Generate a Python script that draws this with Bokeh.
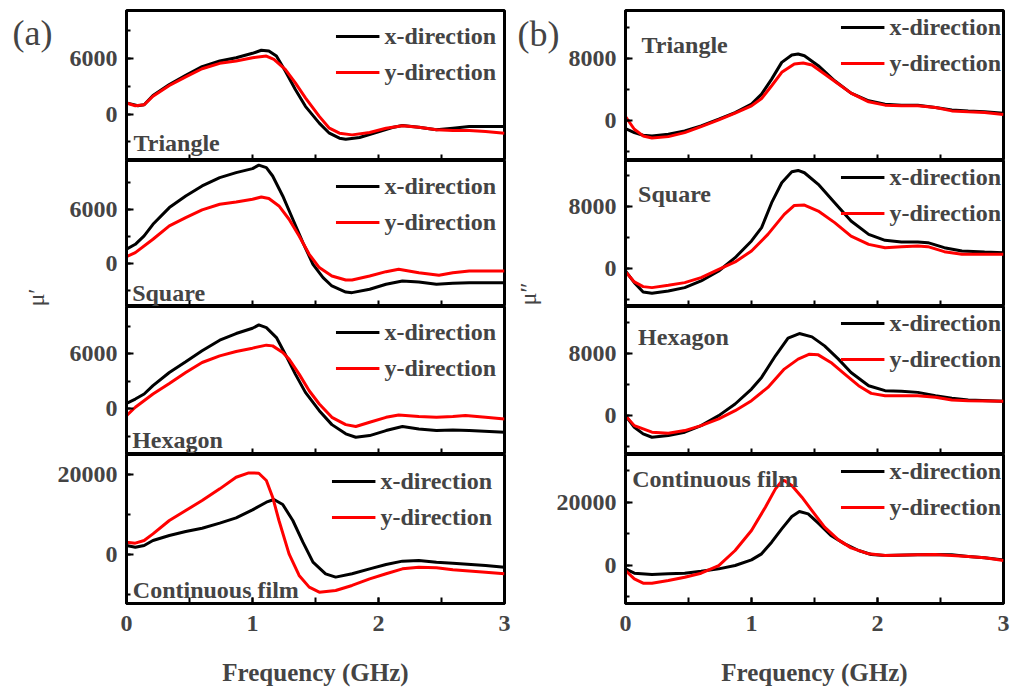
from bokeh.plotting import figure
from bokeh.layouts import row, column
from bokeh.models import (Range1d, SingleIntervalTicker, FixedTicker, Legend, LegendItem, Label, Title,
                          LinearAxis)
from bokeh.embed import file_html
from bokeh.resources import INLINE

FONT = "Liberation Serif"

# ---------------- data (frequency in GHz) ----------------
# (a) mu' ; Triangle
tri_re_fx = [0, 0.09, 0.14, 0.21, 0.34, 0.47, 0.60, 0.74, 0.87, 1.00, 1.07, 1.13, 1.19, 1.26, 1.34,
             1.42, 1.53, 1.61, 1.69, 1.74, 1.85, 1.98, 2.11, 2.19, 2.32, 2.46, 2.59, 2.72, 3.00]
tri_re_x = [1200, 900, 1000, 1990, 3180, 4160, 5100, 5710, 6070, 6540, 6870, 6800, 6250, 4630, 2640,
            830, -980, -2060, -2600, -2710, -2530, -1990, -1450, -1230, -1410, -1700, -1520, -1340, -1340]
tri_re_fy = [0, 0.07, 0.14, 0.21, 0.34, 0.47, 0.60, 0.74, 0.87, 1.00, 1.11, 1.17, 1.26, 1.34,
             1.42, 1.53, 1.61, 1.69, 1.79, 1.93, 2.06, 2.19, 2.32, 2.46, 2.59, 2.72, 2.85, 3.00]
tri_re_y = [1190, 900, 1000, 1920, 3070, 4010, 4880, 5460, 5710, 6070, 6250, 5890, 4810, 3360,
            1735, -250, -1520, -2060, -2240, -1990, -1520, -1265, -1410, -1700, -1770, -1770, -1880, -2060]

# (a) Square
sq_re_fx = [0, 0.07, 0.14, 0.21, 0.34, 0.47, 0.60, 0.74, 0.87, 1.00, 1.05, 1.11, 1.16, 1.24, 1.32,
            1.40, 1.48, 1.56, 1.63, 1.74, 1.79, 1.93, 2.06, 2.19, 2.32, 2.46, 2.59, 2.72, 3.00]
sq_re_x = [1560, 2110, 3040, 4330, 6190, 7480, 8590, 9520, 10070, 10520, 10900, 10630, 9700, 7480, 4890,
           2300, -110, -1590, -2520, -3190, -3260, -2890, -2330, -1960, -2070, -2330, -2220, -2150, -2150]
sq_re_fy = [0, 0.07, 0.21, 0.34, 0.47, 0.60, 0.74, 0.87, 1.00, 1.07, 1.13, 1.21, 1.29, 1.37, 1.45,
            1.53, 1.63, 1.74, 1.79, 1.93, 2.06, 2.16, 2.32, 2.48, 2.59, 2.72, 3.00]
sq_re_y = [740, 1185, 2670, 4150, 5070, 5930, 6560, 6810, 7110, 7370, 7190, 6370, 4890, 3040, 1000,
           -480, -1410, -1850, -1850, -1410, -930, -670, -1040, -1330, -1040, -850, -850]

# (a) Hexagon
hex_re_fx = [0, 0.07, 0.14, 0.21, 0.34, 0.47, 0.60, 0.74, 0.87, 1.00, 1.05, 1.11, 1.19, 1.26, 1.34,
             1.42, 1.53, 1.63, 1.74, 1.82, 1.93, 2.06, 2.19, 2.32, 2.46, 2.59, 2.72, 3.00]
hex_re_x = [580, 1050, 1600, 2510, 3960, 5130, 6330, 7490, 8220, 8800, 9160, 8870, 7780, 5960, 3780,
            1780, -220, -1750, -2760, -3130, -2950, -2400, -1960, -2220, -2400, -2330, -2400, -2580]
hex_re_fy = [0, 0.07, 0.21, 0.34, 0.47, 0.60, 0.74, 0.87, 1.00, 1.11, 1.16, 1.24, 1.29, 1.37, 1.45,
             1.53, 1.63, 1.74, 1.82, 1.93, 2.06, 2.16, 2.32, 2.46, 2.59, 2.69, 2.85, 3.00]
hex_re_y = [-760, 150, 1600, 2760, 3960, 5050, 5780, 6250, 6620, 6950, 6870, 6150, 5420, 3780, 1960,
            510, -950, -1750, -1960, -1490, -950, -690, -870, -950, -870, -760, -950, -1130]

# (a) Continuous film
cf_re_fx = [0, 0.07, 0.14, 0.21, 0.34, 0.47, 0.60, 0.74, 0.87, 1.00, 1.11, 1.17, 1.24, 1.32, 1.40,
            1.48, 1.58, 1.66, 1.79, 1.93, 2.06, 2.19, 2.32, 2.46, 2.59, 2.85, 3.00]
cf_re_x = [2260, 1840, 2260, 3510, 4770, 5770, 6610, 7870, 9200, 11210, 13140, 13810, 12550, 8540, 3100,
           -1920, -4850, -5690, -4850, -3600, -2510, -1670, -1510, -1920, -2180, -2760, -3180]
cf_re_fy = [0, 0.07, 0.14, 0.21, 0.34, 0.47, 0.60, 0.74, 0.87, 0.97, 1.05, 1.11, 1.16, 1.21, 1.29,
            1.37, 1.45, 1.53, 1.66, 1.79, 1.93, 2.06, 2.19, 2.32, 2.46, 2.59, 2.85, 3.00]
cf_re_y = [3100, 2850, 3510, 5190, 8540, 11050, 13560, 16490, 19410, 20500, 20420, 18580, 14390, 8540, 170,
           -5270, -8200, -9460, -9040, -7780, -6110, -4850, -3600, -3180, -3350, -3850, -4440, -4850]

# (b) mu'' ; Triangle
tri_im_fx = [0, 0.07, 0.14, 0.21, 0.34, 0.47, 0.60, 0.74, 0.87, 1.00, 1.08, 1.16, 1.24, 1.32, 1.37,
             1.42, 1.53, 1.66, 1.79, 1.93, 2.06, 2.19, 2.32, 2.46, 2.59, 2.72, 2.85, 3.00]
tri_im_x = [-990, -1510, -1860, -1940, -1730, -1290, -650, 220, 1080, 2160, 3450, 5390, 7550, 8500, 8630,
            8410, 7120, 5180, 3580, 2590, 2160, 2030, 2030, 1730, 1420, 1290, 1170, 990]
tri_im_fy = [0, 0.07, 0.14, 0.21, 0.34, 0.47, 0.60, 0.74, 0.87, 1.00, 1.08, 1.16, 1.24, 1.34, 1.41,
             1.48, 1.58, 1.69, 1.79, 1.93, 2.06, 2.19, 2.32, 2.46, 2.59, 2.72, 2.85, 3.00]
tri_im_y = [560, -1080, -1940, -2200, -2030, -1510, -730, 130, 990, 1940, 2890, 4530, 6260, 7340, 7470,
            7200, 6040, 4750, 3580, 2460, 2030, 1940, 1940, 1730, 1290, 1170, 1080, 820]

# (b) Square
sq_im_fx = [0, 0.07, 0.14, 0.21, 0.34, 0.47, 0.60, 0.74, 0.87, 1.00, 1.08, 1.16, 1.24, 1.32, 1.37,
            1.42, 1.53, 1.66, 1.79, 1.93, 2.06, 2.19, 2.32, 2.40, 2.53, 2.67, 2.85, 3.00]
sq_im_x = [-350, -1860, -3070, -3240, -2940, -2510, -1640, -350, 1380, 3550, 5280, 8520, 11110, 12540, 12710,
           12410, 10900, 8520, 6140, 4410, 3630, 3420, 3420, 3330, 2680, 2250, 2120, 2030]
sq_im_fy = [0, 0.07, 0.14, 0.21, 0.34, 0.47, 0.60, 0.74, 0.87, 1.00, 1.13, 1.26, 1.34, 1.42, 1.53,
            1.66, 1.79, 1.93, 2.06, 2.19, 2.32, 2.40, 2.53, 2.67, 2.85, 3.00]
sq_im_y = [-430, -1770, -2380, -2510, -2200, -1860, -1210, -130, 820, 2250, 4410, 7000, 8170, 8220, 7440,
           5930, 4190, 3110, 2680, 2810, 2900, 2810, 2160, 1820, 1820, 1820]

# (b) Hexagon
hex_im_fx = [0, 0.07, 0.14, 0.21, 0.34, 0.47, 0.60, 0.74, 0.87, 1.00, 1.08, 1.19, 1.29, 1.38, 1.48,
             1.58, 1.69, 1.79, 1.93, 2.06, 2.19, 2.32, 2.46, 2.59, 2.72, 3.00]
hex_im_x = [0, -1500, -2360, -2790, -2570, -2140, -1290, 0, 1500, 3430, 4930, 7720, 9990, 10590, 10160,
            9000, 7290, 5570, 3860, 3220, 3130, 3000, 2570, 2230, 2010, 1840]
hex_im_fy = [0, 0.07, 0.21, 0.34, 0.47, 0.60, 0.74, 0.87, 1.00, 1.13, 1.26, 1.37, 1.46, 1.53, 1.63,
             1.74, 1.85, 1.95, 2.06, 2.19, 2.32, 2.46, 2.59, 2.72, 3.00]
hex_im_y = [0, -1290, -2140, -2270, -1930, -1290, -430, 640, 1930, 3640, 6000, 7290, 7930, 7840, 6860,
            5360, 3860, 2870, 2570, 2570, 2570, 2360, 2010, 1930, 1840]

# (b) Continuous film
cf_im_fx = [0, 0.07, 0.21, 0.34, 0.47, 0.60, 0.74, 0.87, 1.00, 1.08, 1.16, 1.24, 1.32, 1.38, 1.45,
            1.53, 1.63, 1.74, 1.85, 1.95, 2.06, 2.32, 2.46, 2.59, 2.72, 2.85, 3.00]
cf_im_x = [-1160, -2540, -2960, -2750, -2540, -1900, -1160, -110, 1690, 3600, 7300, 11530, 15450, 17040, 16300,
           13330, 9420, 6770, 4660, 3390, 3070, 3280, 3390, 3280, 2750, 2330, 1690]
cf_im_fy = [0, 0.07, 0.14, 0.21, 0.34, 0.47, 0.60, 0.74, 0.87, 1.00, 1.11, 1.19, 1.24, 1.26, 1.32,
            1.40, 1.48, 1.58, 1.69, 1.79, 1.93, 2.06, 2.32, 2.46, 2.59, 2.72, 2.85, 3.00]
cf_im_y = [-1690, -4340, -5710, -5710, -4870, -3810, -2540, -110, 4660, 11010, 18410, 24230, 26670, 26880, 25290,
           21590, 17350, 12060, 8040, 5500, 3600, 3070, 3280, 3390, 3070, 2750, 2330, 1480]

sample_names = ["Triangle", "Square", "Hexagon", "Continuous film"]
series_labels = ["x-direction", "y-direction"]
panel_letters = ["(a)", "(b)"]
y_titles = ["μ′", "μ″"]
x_title = "Frequency (GHz)"
x_minor_ticks = [0.5, 1.0, 1.5, 2.0, 2.5]

# ---------------- layout settings ----------------
FRAME_W = 378
FRAME_H = [150, 146, 148, 149]

left_specs = [
    dict(data=(tri_re_fx, tri_re_x, tri_re_fy, tri_re_y), yr=(-5000, 11150), iv=6000, name_pos=(0.056, -3150)),
    dict(data=(sq_re_fx, sq_re_x, sq_re_fy, sq_re_y), yr=(-4800, 11420), iv=6000, name_pos=(0.045, -3270)),
    dict(data=(hex_re_fx, hex_re_x, hex_re_fy, hex_re_y), yr=(-5020, 11180), iv=6000, name_pos=(0.045, -3410)),
    dict(data=(cf_re_fx, cf_re_x, cf_re_fy, cf_re_y), yr=(-12310, 25120), iv=20000, name_pos=(0.05, -8870)),
]
right_specs = [
    dict(data=(tri_im_fx, tri_im_x, tri_im_fy, tri_im_y), yr=(-5110, 14240), iv=8000, name_pos=(0.127, 9800)),
    dict(data=(sq_im_fx, sq_im_x, sq_im_fy, sq_im_y), yr=(-4960, 14000), iv=8000, name_pos=(0.10, 9610)),
    dict(data=(hex_im_fx, hex_im_x, hex_im_fy, hex_im_y), yr=(-5016, 14080), iv=8000, name_pos=(0.10, 10160)),
    dict(data=(cf_im_fx, cf_im_x, cf_im_fy, cf_im_y), yr=(-12160, 35140), iv=20000, name_pos=(0.053, 27430)),
]


def make_panel(spec, idx, side):
    fx, vx, fy, vy = spec["data"]
    bottom = idx == 3
    p = figure(x_range=Range1d(0, 3), y_range=Range1d(*spec["yr"]),
               frame_width=FRAME_W, frame_height=FRAME_H[idx],
               output_backend="svg", toolbar_location=None,
               min_border_left=126 if side == "L" else 113,
               min_border_right=8 if side == "L" else 9,
               min_border_top=10 if idx == 0 else 0,
               min_border_bottom=88 if bottom else 0)
    p.background_fill_color = "white"
    p.border_fill_color = "white"
    p.outline_line_color = "black"
    p.outline_line_width = 3
    p.xgrid.visible = False
    p.ygrid.visible = False

    # x axis
    xa = p.xaxis[0]
    xa.axis_line_width = 3
    xa.major_tick_in = 6
    xa.major_tick_out = 0
    xa.minor_tick_in = 6
    xa.minor_tick_out = 0
    xa.major_tick_line_width = 2
    xa.minor_tick_line_width = 2
    if bottom:
        xa.ticker = SingleIntervalTicker(interval=1, num_minor_ticks=2)
        xa.major_label_text_font = FONT
        xa.major_label_text_font_style = "bold"
        xa.major_label_text_font_size = "24px"
        xa.major_label_standoff = 12
        xa.axis_label = x_title
        xa.axis_label_text_font = FONT
        xa.axis_label_text_font_style = "bold"
        xa.axis_label_text_font_size = "25px"
        xa.axis_label_standoff = 25
    else:
        xa.ticker = FixedTicker(ticks=[], minor_ticks=x_minor_ticks)
        xa.major_label_standoff = 0

    # y axis
    ya = p.yaxis[0]
    ya.ticker = SingleIntervalTicker(interval=spec["iv"], num_minor_ticks=2)
    ya.axis_line_width = 3
    ya.major_tick_in = 7
    ya.major_tick_out = 0
    ya.minor_tick_in = 4
    ya.minor_tick_out = 0
    ya.major_tick_line_width = 2
    ya.minor_tick_line_width = 2
    ya.major_label_text_font = FONT
    ya.major_label_text_font_style = "bold"
    ya.major_label_text_font_size = "24px"
    ya.major_label_standoff = 9

    rx = p.line(fx, vx, line_color="black", line_width=3)
    ry = p.line(fy, vy, line_color="#ff0000", line_width=3)

    if side == "L":
        if bottom:
            lh, sp, mg = 30, 6, 12
        else:
            lh, sp, mg = 36, 0, 8
    else:
        lh, sp, mg = 30, 6, 2
    leg = Legend(items=[LegendItem(label=series_labels[0], renderers=[rx]),
                        LegendItem(label=series_labels[1], renderers=[ry])],
                 location="top_right", margin=mg, padding=0, spacing=sp,
                 label_height=lh, glyph_height=lh, glyph_width=44, label_standoff=5,
                 label_text_font=FONT, label_text_font_style="bold", label_text_font_size="24px",
                 border_line_alpha=0, background_fill_alpha=0)
    p.add_layout(leg)

    nx, ny = spec["name_pos"]
    p.add_layout(Label(x=nx, y=ny, text=sample_names[idx], text_font=FONT, text_font_style="bold",
                       text_font_size="24px", text_align="left", text_baseline="alphabetic"))
    return p


def add_side_text(p, text, yval, standoff, size, orientation="horizontal"):
    # an extra, line-less axis whose single tick label carries the text
    ax = LinearAxis(ticker=FixedTicker(ticks=[yval], minor_ticks=[]),
                    major_label_overrides={yval: text},
                    axis_line_color=None, major_tick_line_color=None, minor_tick_line_color=None,
                    major_tick_in=0, major_tick_out=0, minor_tick_in=0, minor_tick_out=0,
                    major_label_standoff=standoff, major_label_text_font=FONT,
                    major_label_text_font_size=size, major_label_text_font_style="normal",
                    major_label_orientation=orientation)
    p.add_layout(ax, "left")


left = [make_panel(s, i, "L") for i, s in enumerate(left_specs)]
right = [make_panel(s, i, "R") for i, s in enumerate(right_specs)]

# panel letters
add_side_text(left[0], panel_letters[0], 8760, 14, "36px")
add_side_text(right[0], panel_letters[1], 11260, 6, "36px")

# y-axis titles
left[1].add_layout(Title(text=y_titles[0], text_font=FONT, text_font_size="24px", text_font_style="normal",
                         align="left", standoff=36), "left")
add_side_text(right[1], y_titles[1], -3340, 24, "24px", "vertical")

layout = row(column(*left), column(*right))
open("out.html", "w").write(file_html(layout, INLINE))
